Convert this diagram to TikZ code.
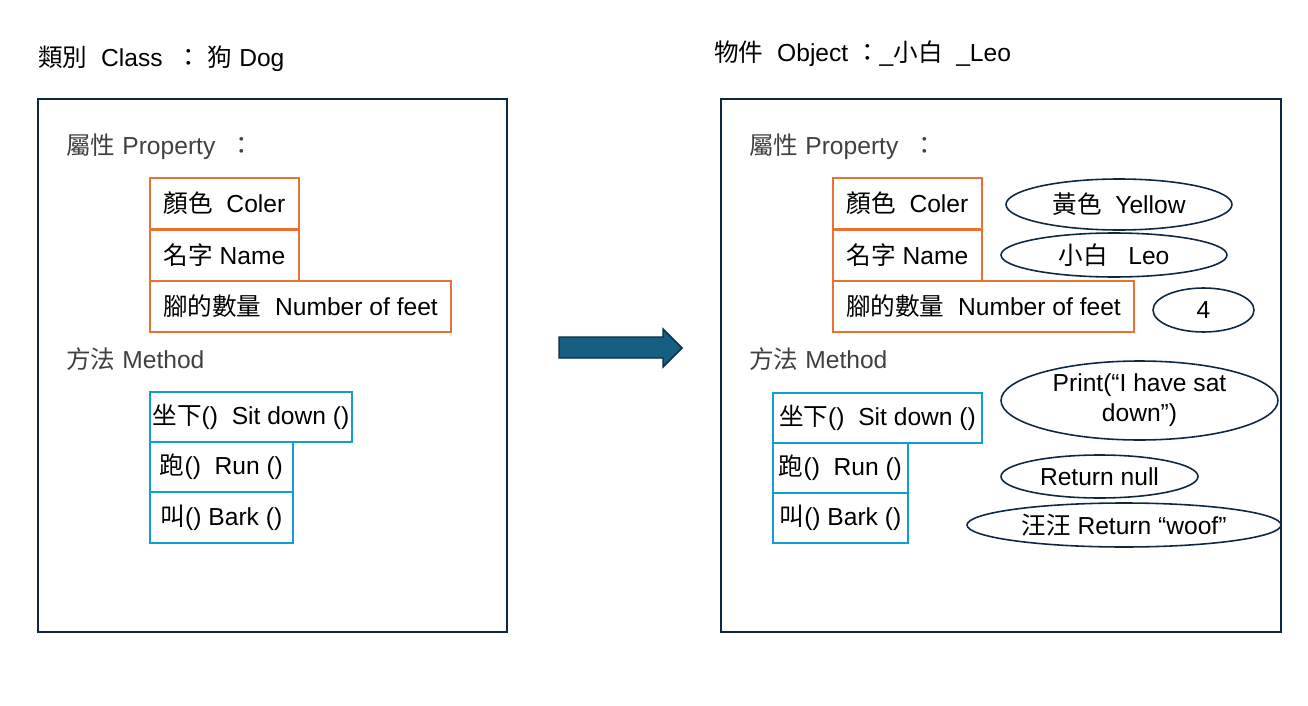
\documentclass[tikz,border=0pt]{standalone}
\usepackage{fontspec}
\setmainfont{Liberation Sans}
\newfontfamily\cjk{Noto Sans CJK TC}
\usepackage{tikz}
\usetikzlibrary{shapes.geometric}
\definecolor{navy}{HTML}{0E2841}
\definecolor{orng}{HTML}{E97132}
\definecolor{cyanb}{HTML}{0F9ED5}
\definecolor{arrfill}{HTML}{156082}
\definecolor{graytxt}{HTML}{404040}

\begin{document}
\begin{tikzpicture}[x=0.02cm, y=-0.02cm, font=\fontsize{14}{17}\selectfont,
  frame/.style={draw=navy, line width=1.1pt},
  prop/.style={draw=orng, line width=1.1pt, anchor=north west, inner sep=0pt, minimum height=1.02cm},
  meth/.style={draw=cyanb, line width=1.1pt, anchor=north west, inner sep=0pt, minimum height=1cm},
  val/.style={draw=navy, ellipse, line width=0.9pt, inner sep=0pt, align=center},
  lbl/.style={anchor=west, inner sep=0pt}]
\useasboundingbox (0,0) rectangle (1308,706);
% titles
\node[lbl] (cls) at (38,59) {{\cjk 類別}\ \ Class\ \ {\cjk ：}\ {\cjk 狗} Dog};
\node[lbl] (obj) at (714,54) {{\cjk 物件}\ \ Object\ {\cjk ：}\_{\cjk 小白}\ \ \_Leo};
% frames
\draw[frame] (38,99) rectangle (507,632);
\draw[frame] (721,99) rectangle (1281,632);
% class side
\node[lbl, text=graytxt] (cprop) at (66,147) {{\cjk 屬性} Property\ \ {\cjk ：}};
\node[prop, minimum width=2.98cm] (c1) at (149,177) {{\cjk 顏色}\ \ Coler};
\node[prop, minimum width=2.98cm] (c2) at (149,229) {{\cjk 名字} Name};
\node[prop, minimum width=6.02cm] (c3) at (149,280) {{\cjk 腳的數量}\ \ Number of feet};
\node[lbl, text=graytxt] (cmeth) at (66,359) {{\cjk 方法} Method};
\node[meth, minimum width=4.04cm] (m1) at (149,391) {{\cjk 坐下}()\ \ Sit down ()};
\node[meth, minimum width=2.86cm] (m2) at (149,441) {{\cjk 跑}()\ \ Run ()};
\node[meth, minimum width=2.86cm, minimum height=1.02cm] (m3) at (149,491) {{\cjk 叫}() Bark ()};
% arrow
\draw[navy, line width=0.8pt, fill=arrfill] (559,337) -- (663,337) -- (663,329) -- (682,348)
  -- (663,367) -- (663,358) -- (559,358) -- cycle;
% object side
\node[lbl, text=graytxt] (oprop) at (749,147) {{\cjk 屬性} Property\ \ {\cjk ：}};
\node[prop, minimum width=2.98cm] (o1) at (832,177) {{\cjk 顏色}\ \ Coler};
\node[prop, minimum width=2.98cm] (o2) at (832,229) {{\cjk 名字} Name};
\node[prop, minimum width=6.02cm] (o3) at (832,280) {{\cjk 腳的數量}\ \ Number of feet};
\node[lbl, text=graytxt] (ometh) at (749,359) {{\cjk 方法} Method};
\node[meth, minimum width=4.18cm] (p1) at (772,392) {{\cjk 坐下}()\ \ Sit down ()};
\node[meth, minimum width=2.70cm] (p2) at (772,442) {{\cjk 跑}()\ \ Run ()};
\node[meth, minimum width=2.70cm] (p3) at (772,492) {{\cjk 叫}() Bark ()};
% values
\node[val, minimum width=4.52cm, minimum height=1.02cm] (v1) at (1119,204.5) {{\cjk 黃色}\ \ Yellow};
\node[val, minimum width=4.52cm, minimum height=0.88cm] (v2) at (1114,255) {{\cjk 小白}\ \ \ Leo};
\node[val, minimum width=2.02cm, minimum height=0.88cm] (v3) at (1203.5,310) {4};
\node[val, minimum width=5.54cm, minimum height=1.58cm] (v4) at (1139.5,400.5) {Print(“I have sat\\down”)};
\node[val, minimum width=3.94cm, minimum height=0.86cm] (v5) at (1099.5,476.5) {Return null};
\node[val, minimum width=6.28cm, minimum height=0.88cm] (v6) at (1124,525) {{\cjk 汪汪} Return “woof”};
\end{tikzpicture}
\end{document}
